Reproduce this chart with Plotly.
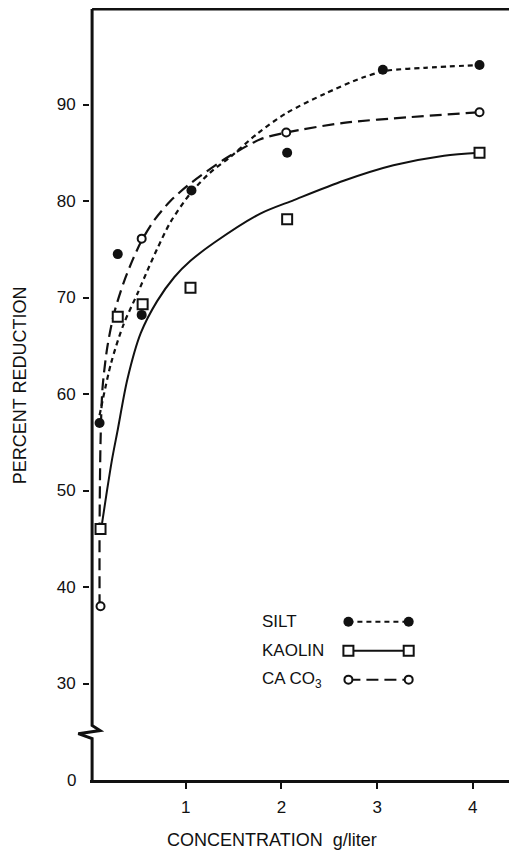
import plotly.graph_objects as go

# ---- measured points ----
silt_x = [0.10, 0.29, 0.54, 1.06, 2.06, 3.06, 4.07]
silt_y = [57.0, 74.5, 68.2, 81.1, 85.0, 93.6, 94.1]

kaolin_x = [0.11, 0.29, 0.55, 1.05, 2.06, 4.07]
kaolin_y = [46.0, 68.0, 69.3, 71.0, 78.1, 85.0]

caco3_x = [0.11, 0.54, 2.05, 4.07]
caco3_y = [38.0, 76.1, 87.1, 89.2]

# ---- fitted curves ----
silt_curve_x = [0.10, 0.22, 0.35, 0.50, 0.60, 0.70, 0.84, 1.05, 1.25, 1.47, 1.75, 2.05, 2.45, 2.85, 3.10, 3.50, 4.07]
silt_curve_y = [57.8, 63.2, 67.2, 70.5, 72.8, 75.0, 77.8, 80.8, 82.9, 84.6, 87.0, 89.1, 91.1, 92.8, 93.5, 93.8, 94.1]

kaolin_curve_x = [0.12, 0.17, 0.23, 0.29, 0.39, 0.53, 0.70, 0.88, 1.05, 1.30, 1.78, 2.13, 2.65, 3.17, 3.70, 4.07]
kaolin_curve_y = [46.2, 49.5, 53.2, 56.3, 61.5, 66.3, 69.6, 72.1, 73.8, 75.7, 78.7, 80.1, 82.1, 83.7, 84.7, 85.0]

caco3_curve_x = [0.10, 0.10, 0.11, 0.13, 0.18, 0.25, 0.35, 0.45, 0.54, 0.67, 0.84, 1.02, 1.40, 1.78, 2.05, 2.65, 3.35, 4.07]
caco3_curve_y = [38.0, 46.0, 55.0, 60.5, 64.8, 68.3, 71.5, 74.0, 75.9, 78.0, 80.0, 81.6, 84.3, 86.4, 87.1, 88.1, 88.7, 89.2]

y_tickvals = [30, 40, 50, 60, 70, 80, 90]
y_ticktext = ["30", "40", "50", "60", "70", "80", "90"]
x_tickvals = [1, 2, 3, 4]
x_ticktext = ["1", "2", "3", "4"]

FONT = "Liberation Sans, Arial, sans-serif"
BLACK = "#111111"

fig = go.Figure()

# curves
fig.add_trace(go.Scatter(x=kaolin_curve_x, y=kaolin_curve_y, mode="lines",
                         line=dict(color=BLACK, width=2, shape="spline", smoothing=0.8),
                         showlegend=False, hoverinfo="skip"))
fig.add_trace(go.Scatter(x=silt_curve_x, y=silt_curve_y, mode="lines",
                         line=dict(color=BLACK, width=2.2, dash="5px,4px", shape="spline", smoothing=0.8),
                         showlegend=False, hoverinfo="skip"))
fig.add_trace(go.Scatter(x=caco3_curve_x, y=caco3_curve_y, mode="lines",
                         line=dict(color=BLACK, width=2.2, dash="12px,6px", shape="spline", smoothing=0.8),
                         showlegend=False, hoverinfo="skip"))

# points
fig.add_trace(go.Scatter(x=silt_x, y=silt_y, mode="markers", name="SILT",
                         marker=dict(symbol="circle", size=10, color=BLACK),
                         showlegend=False))
fig.add_trace(go.Scatter(x=kaolin_x, y=kaolin_y, mode="markers", name="KAOLIN",
                         marker=dict(symbol="square", size=10, color="white",
                                     line=dict(color=BLACK, width=2)),
                         showlegend=False))
fig.add_trace(go.Scatter(x=caco3_x, y=caco3_y, mode="markers", name="CA CO3",
                         marker=dict(symbol="circle", size=8, color="white",
                                     line=dict(color=BLACK, width=2)),
                         showlegend=False))

# ---- custom legend (text left, key right) ----
lx0, lx1 = 2.70, 3.33
legend_rows = [
    ("SILT", 36.4, dict(dash="5px,4px", width=2), dict(symbol="circle", size=10, color=BLACK)),
    ("KAOLIN", 33.4, dict(dash="solid", width=2), dict(symbol="square", size=10, color="white", line=dict(color=BLACK, width=2))),
    ("CA CO<sub>3</sub>", 30.4, dict(dash="12px,6px", width=2), dict(symbol="circle", size=8, color="white", line=dict(color=BLACK, width=2))),
]
for label, ly, ls, ms in legend_rows:
    fig.add_trace(go.Scatter(x=[lx0, lx1], y=[ly, ly], mode="lines+markers",
                             line=dict(color=BLACK, **ls), marker=ms,
                             showlegend=False, hoverinfo="skip"))
    fig.add_annotation(x=1.78, y=ly, xref="x", yref="y", text=label, showarrow=False,
                       xanchor="left", yanchor="middle",
                       font=dict(family=FONT, size=17, color=BLACK))

# ---- axes frame ----
# left axis with a break (zigzag)
fig.add_shape(type="path", xref="paper", yref="y",
              path="M 0.005,99.9 L 0.005,25.65 L 0.024,25.13 L -0.028,24.8 L 0.005,24.3 L 0.005,20",
              line=dict(color=BLACK, width=3), layer="above")
# top frame line
fig.add_shape(type="line", xref="paper", yref="paper", x0=0.005, x1=1, y0=1, y1=1,
              line=dict(color=BLACK, width=3), layer="above")

# "0" label at the bottom of the broken axis
fig.add_annotation(x=0, y=20, xref="paper", yref="y", text="0", showarrow=False,
                   xanchor="right", yanchor="middle", xshift=-12,
                   font=dict(family=FONT, size=17, color=BLACK))

# axis titles
fig.add_annotation(x=0.434, y=-0.078, xref="paper", yref="paper",
                   text="CONCENTRATION\u00a0\u00a0g/liter", showarrow=False,
                   xanchor="center", yanchor="middle",
                   font=dict(family=FONT, size=18, color=BLACK))
fig.add_annotation(x=-0.167, y=0.512, xref="paper", yref="paper",
                   text="PERCENT REDUCTION", showarrow=False, textangle=-90,
                   xanchor="center", yanchor="middle",
                   font=dict(family=FONT, size=18, color=BLACK))

fig.update_xaxes(range=[0, 4.378], tickvals=x_tickvals, ticktext=x_ticktext,
                 showgrid=False, zeroline=False, showline=True, linecolor=BLACK, linewidth=3,
                 ticks="outside", ticklen=6, tickwidth=1.5, tickcolor=BLACK,
                 ticklabelstandoff=4,
                 tickfont=dict(family=FONT, size=17, color=BLACK))
fig.update_yaxes(range=[20, 99.9], tickvals=y_tickvals, ticktext=y_ticktext,
                 showgrid=False, zeroline=False, showline=False,
                 ticks="outside", ticklen=6, tickwidth=1.5, tickcolor=BLACK,
                 ticklabelstandoff=4,
                 tickfont=dict(family=FONT, size=17, color=BLACK))

# figure sized to fit inside the page's default 8px body margin
fig.update_layout(width=501, height=842,
                  margin=dict(l=82, r=0, t=1, b=70),
                  paper_bgcolor="white", plot_bgcolor="white",
                  showlegend=False)

fig.write_html("out.html")
